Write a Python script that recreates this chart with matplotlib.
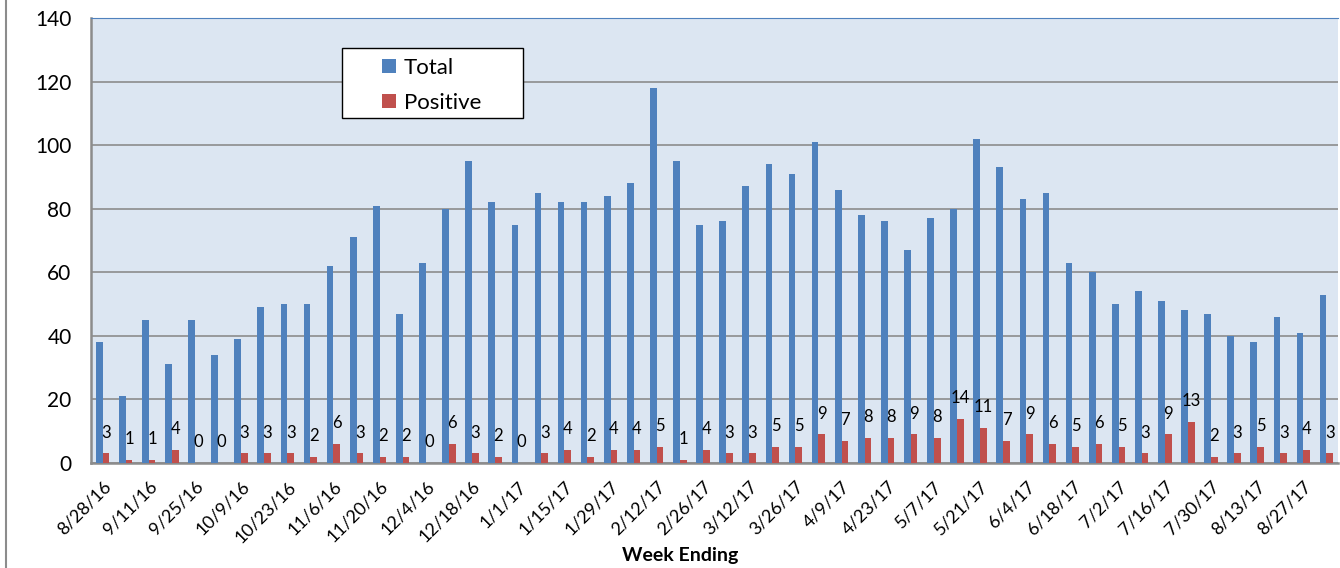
import numpy as np
import matplotlib.pyplot as plt
from matplotlib.lines import Line2D
from matplotlib.patches import Rectangle

weeks = ['8/28/16', '9/4/16', '9/11/16', '9/18/16', '9/25/16', '10/2/16', '10/9/16', '10/16/16',
         '10/23/16', '10/30/16', '11/6/16', '11/13/16', '11/20/16', '11/27/16', '12/4/16', '12/11/16',
         '12/18/16', '12/25/16', '1/1/17', '1/8/17', '1/15/17', '1/22/17', '1/29/17', '2/5/17',
         '2/12/17', '2/19/17', '2/26/17', '3/5/17', '3/12/17', '3/19/17', '3/26/17', '4/2/17',
         '4/9/17', '4/16/17', '4/23/17', '4/30/17', '5/7/17', '5/14/17', '5/21/17', '5/28/17',
         '6/4/17', '6/11/17', '6/18/17', '6/25/17', '7/2/17', '7/9/17', '7/16/17', '7/23/17',
         '7/30/17', '8/6/17', '8/13/17', '8/20/17', '8/27/17', '9/3/17']
total = [38, 21, 45, 31, 45, 34, 39, 49, 50, 50, 62, 71, 81, 47, 63, 80, 95, 82, 75, 85,
         82, 82, 84, 88, 118, 95, 75, 76, 87, 94, 91, 101, 86, 78, 76, 67, 77, 80, 102, 93,
         83, 85, 63, 60, 50, 54, 51, 48, 47, 40, 38, 46, 41, 53]
positive = [3, 1, 1, 4, 0, 0, 3, 3, 3, 2, 6, 3, 2, 2, 0, 6, 3, 2, 0, 3,
            4, 2, 4, 4, 5, 1, 4, 3, 3, 5, 5, 9, 7, 8, 8, 9, 8, 14, 11, 7,
            9, 6, 5, 6, 5, 3, 9, 13, 2, 3, 5, 3, 4, 3]

plt.rcParams['font.family'] = ['Lato', 'DejaVu Sans']

fig = plt.figure(figsize=(13.4, 5.68), dpi=100)
ax = fig.add_axes([91 / 1340, 1 - 463 / 568, 1247 / 1340, 445 / 568])

x = np.arange(len(weeks))
w = 0.29
ax.bar(x - w / 2, total, w, color='#4F81BD', label='Total', zorder=3)
ax.bar(x + w / 2, positive, w, color='#C0504D', label='Positive', zorder=3)

for xi, v in zip(x, positive):
    ax.annotate(str(v), (xi + w / 2, v), textcoords='offset points', xytext=(0, 15),
                ha='center', va='center', fontsize=12, zorder=4)

ax.set_facecolor('#DCE6F2')
ax.set_xlim(-0.5, len(weeks) - 0.5)
ax.set_ylim(0, 140)
ax.set_yticks(range(0, 141, 20))
ax.yaxis.grid(True, color='#8C8C8C', linewidth=1.2, zorder=0)
ax.tick_params(axis='y', labelsize=15, length=0, pad=14)

ax.set_xticks(x[::2])
ax.set_xticklabels(weeks[::2], rotation=45, ha='right', rotation_mode='anchor', fontsize=13)
ax.tick_params(axis='x', length=0, pad=11)
fig.text(680 / 1340, 1 - 555 / 568, 'Week Ending', fontsize=14, fontweight='bold',
         ha='center', va='center')

for s in ['left', 'bottom']:
    ax.spines[s].set_color('#8C8C8C')
    ax.spines[s].set_linewidth(1.8)
ax.spines['top'].set_color('#4F81BD')
ax.spines['right'].set_visible(False)

# legend box drawn separately so the padding matches
ax.add_patch(Rectangle((251 / 1247, 345 / 445), 181 / 1247, 70 / 445, transform=ax.transAxes,
                       facecolor='white', edgecolor='black', linewidth=1.0, zorder=5))
leg = ax.legend(loc='upper left', bbox_to_anchor=(291 / 1247, 405 / 445), fontsize=16,
                frameon=False, handlelength=0.62, handleheight=0.62, handletextpad=0.35,
                borderpad=0, labelspacing=0.68, borderaxespad=0)
leg.set_zorder(6)

fig.add_artist(Line2D([6 / 1340, 6 / 1340], [0, 1], color='#8C8C8C', linewidth=1.5))

fig.savefig('out.png', dpi=100)
